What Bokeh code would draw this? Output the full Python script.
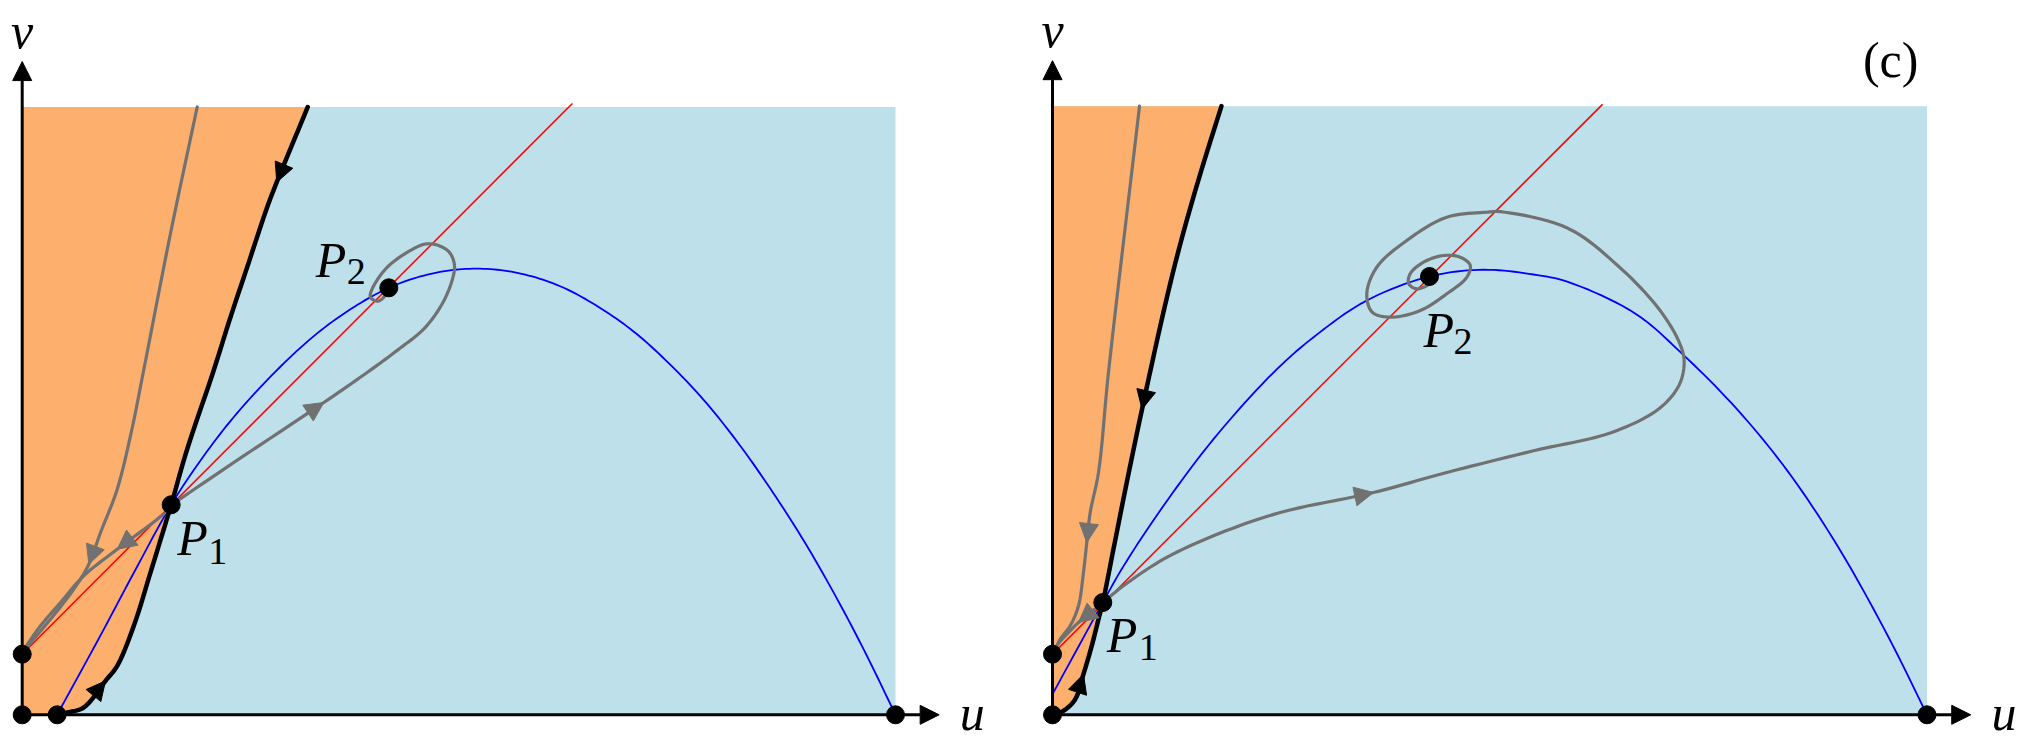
from bokeh.plotting import figure
from bokeh.layouts import row
from bokeh.models import Range1d, Arrow, NormalHead
from bokeh.core.properties import value
from bokeh.embed import file_html
from bokeh.resources import INLINE

# ---------------- data (u, v phase-plane coordinates, K = 1) ----------------
v_top = 0.696          # upper edge of the shaded domain
axis_u_end = 1.05
axis_v_end = 0.748

# ----- left panel -----
left_eq_u = [0.0, 0.040, 0.0, 0.1706, 0.4198, 1.0]
left_eq_v = [0.0, 0.0, 0.0694, 0.2405, 0.4889, 0.0]
left_p1 = (0.1706, 0.2405)
left_p2 = (0.4198, 0.4889)

left_red_u = [0.0, 0.630]
left_red_v = [0.0694, 0.700]

left_blue_u = [0.040, 0.090, 0.128, 0.1706, 0.204, 0.2423, 0.290, 0.338, 0.380, 0.4198,
               0.460, 0.500, 0.540, 0.580, 0.620, 0.660, 0.700, 0.740, 0.780, 0.820,
               0.860, 0.900, 0.940, 0.970, 1.000]
left_blue_v = [0.0, 0.0915, 0.163, 0.2405, 0.291, 0.341, 0.393, 0.437, 0.467, 0.4889,
               0.503, 0.510, 0.510, 0.503, 0.489, 0.467, 0.439, 0.403, 0.361, 0.311,
               0.254, 0.191, 0.120, 0.062, 0.0]

left_sep_u = [0.0401, 0.0515, 0.0705, 0.0954, 0.1088, 0.1278, 0.1469, 0.1621, 0.1706,
              0.1889, 0.2185, 0.2385, 0.2576, 0.2805, 0.2915, 0.3270]
left_sep_v = [0.0, 0.0026, 0.0084, 0.0389, 0.0561, 0.1019, 0.1629, 0.2125, 0.2405,
              0.3041, 0.3920, 0.4553, 0.5125, 0.5812, 0.6099, 0.6960]

left_gtop_u = [0.2004, 0.1698, 0.1386, 0.1252, 0.1088, 0.0897, 0.0763, 0.0591, 0.0324, 0.0038, 0.0]
left_gtop_v = [0.6960, 0.5511, 0.3920, 0.3250, 0.2583, 0.2087, 0.1724, 0.1438, 0.1095, 0.0751, 0.0694]

left_gp1_u = [0.1706, 0.1660, 0.1088, 0.0705, 0.0439, 0.0210, 0.0038, 0.0]
left_gp1_v = [0.2405, 0.2336, 0.1896, 0.1592, 0.1286, 0.1019, 0.0771, 0.0694]

left_gsp_u = [0.1706, 0.1775, 0.2423, 0.3454, 0.3950, 0.4294, 0.4600, 0.4800, 0.4915, 0.4950,
              0.4893, 0.4767, 0.4618, 0.4446, 0.4180, 0.4008, 0.3988, 0.4065, 0.4141, 0.4198]
left_gsp_v = [0.2405, 0.2450, 0.2889, 0.3576, 0.3920, 0.4173, 0.4420, 0.4690, 0.4950, 0.5145,
              0.5294, 0.5374, 0.5391, 0.5317, 0.5125, 0.4878, 0.4782, 0.4736, 0.4782, 0.4889]

# ----- right panel (c) -----
right_eq_u = [0.0, 0.0, 0.0575, 0.4311, 1.0]
right_eq_v = [0.0, 0.0693, 0.1284, 0.5012, 0.0]
right_p1 = (0.0575, 0.1284)
right_p2 = (0.4311, 0.5012)

right_red_u = [0.0, 0.629]
right_red_v = [0.0693, 0.698]

right_blue_u = [0.0, 0.0575, 0.0812, 0.1269, 0.1841, 0.2527, 0.2985, 0.3594, 0.4311, 0.4929,
                0.5500, 0.5894, 0.6666, 0.7204, 0.7822, 0.8400, 0.8979, 0.9556, 1.0]
right_blue_v = [0.0236, 0.1284, 0.1700, 0.2390, 0.3152, 0.3914, 0.4318, 0.4738, 0.5012, 0.5089,
                0.5035, 0.4950, 0.4587, 0.4125, 0.3500, 0.2795, 0.1927, 0.0895, 0.0]

right_sep_u = [0.0, 0.0126, 0.0260, 0.0354, 0.0449, 0.0526, 0.0575, 0.0697, 0.0849, 0.1024,
               0.1300, 0.1472, 0.1690, 0.1932]
right_sep_v = [0.0, 0.0046, 0.0178, 0.0464, 0.0789, 0.1093, 0.1284, 0.1894, 0.2656, 0.3495,
               0.4738, 0.5424, 0.6186, 0.6960]

right_gtop_u = [0.0995, 0.0640, 0.0526, 0.0431, 0.0392, 0.0354, 0.0297, 0.0202, 0.0088, 0.0031, 0.0]
right_gtop_v = [0.6960, 0.3914, 0.2771, 0.2313, 0.1970, 0.1627, 0.1246, 0.1018, 0.0864, 0.0750, 0.0693]

right_gp1_u = [0.0575, 0.0297, 0.0183, 0.0069, 0.0]
right_gp1_v = [0.1284, 0.1055, 0.0941, 0.0815, 0.0693]

right_gsp_u = [0.0575, 0.0812, 0.1269, 0.1841, 0.2604, 0.3671, 0.4509, 0.5500, 0.6395,
               0.6935, 0.7166, 0.7223, 0.7166, 0.6935, 0.6472, 0.5894, 0.5123, 0.4966, 0.4509,
               0.4051, 0.3708, 0.3594, 0.3656, 0.3862, 0.4205, 0.4509, 0.4738, 0.4777, 0.4663,
               0.4472, 0.4243, 0.4090, 0.4074, 0.4166, 0.4319, 0.4395, 0.4311]
right_gsp_v = [0.1284, 0.1475, 0.1779, 0.2047, 0.2313, 0.2542, 0.2771, 0.3019, 0.3229,
               0.3500, 0.3772, 0.4043, 0.4261, 0.4640, 0.5129, 0.5563, 0.5753, 0.5747, 0.5690,
               0.5424, 0.5118, 0.4814, 0.4604, 0.4547, 0.4623, 0.4814, 0.5004, 0.5138, 0.5233,
               0.5252, 0.5176, 0.5043, 0.4929, 0.4871, 0.4929, 0.5000, 0.5012]

# ---------------- styling ----------------
ORANGE = "#FDAF6E"
LIGHTBLUE = "#BDE0EB"
GRAY = "#717171"
FONT = value("Liberation Serif")
H = 744
BIG = 50      # main text size (px)
SMALL = 38    # subscript size (px)
LIFT_BIG = -16
LIFT_SMALL = -12


def smooth(us, vs, n=10):
    """Centripetal Catmull-Rom curve drawn through the read points (rendering only)."""
    pts = list(zip(us, vs))
    if len(pts) < 3:
        return list(us), list(vs)
    ext = [(2 * pts[0][0] - pts[1][0], 2 * pts[0][1] - pts[1][1])] + pts + \
          [(2 * pts[-1][0] - pts[-2][0], 2 * pts[-1][1] - pts[-2][1])]
    ou, ov = [], []

    def tj(ti, a, b):
        d = ((b[0] - a[0]) ** 2 + (b[1] - a[1]) ** 2) ** 0.5
        return ti + max(d, 1e-9) ** 0.5

    for i in range(1, len(ext) - 2):
        P0, P1, P2, P3 = ext[i - 1], ext[i], ext[i + 1], ext[i + 2]
        t0 = 0.0
        t1 = tj(t0, P0, P1)
        t2 = tj(t1, P1, P2)
        t3 = tj(t2, P2, P3)
        for k in range(n):
            t = t1 + (t2 - t1) * k / n

            def lerp(a, b, ta, tb):
                return ((tb - t) / (tb - ta) * a[0] + (t - ta) / (tb - ta) * b[0],
                        (tb - t) / (tb - ta) * a[1] + (t - ta) / (tb - ta) * b[1])
            A1 = lerp(P0, P1, t0, t1)
            A2 = lerp(P1, P2, t1, t2)
            A3 = lerp(P2, P3, t2, t3)
            B1 = lerp(A1, A2, t0, t2)
            B2 = lerp(A2, A3, t1, t3)
            C = lerp(B1, B2, t1, t2)
            ou.append(C[0])
            ov.append(C[1])
    ou.append(pts[-1][0])
    ov.append(pts[-1][1])
    return ou, ov


def make_panel(width, xr, yr, d):
    p = figure(width=width, height=H, x_range=Range1d(*xr), y_range=Range1d(*yr),
               output_backend="svg", toolbar_location=None,
               x_axis_location=None, y_axis_location=None, min_border=0,
               outline_line_color=None, background_fill_color="white",
               border_fill_color="white")
    p.grid.visible = False

    # domains
    su, sv = smooth(d["sep_u"], d["sep_v"])
    p.quad(left=0, right=d["eq_u"][-1], bottom=0, top=v_top,
           fill_color=LIGHTBLUE, line_color=None)
    p.patch([0.0] + su + [0.0], [0.0] + sv + [sv[-1]],
            fill_color=ORANGE, line_color=None)

    # nullclines
    bu, bv = smooth(d["blue_u"], d["blue_v"])
    p.line(bu, bv, line_color="#0000FF", line_width=1.8, line_join="round")
    p.line(d["red_u"], d["red_v"], line_color="#FF0000", line_width=1.5)

    # trajectories
    for key in ("gtop", "gp1", "gsp"):
        gu, gv = smooth(d[key + "_u"], d[key + "_v"])
        p.line(gu, gv, line_color=GRAY, line_width=3.2,
               line_join="round", line_cap="round")
    p.line(su, sv, line_color="black", line_width=4.5,
           line_join="round", line_cap="round")

    # arrow heads on curves: (curve, index, backwards, color)
    for key, idx, back, col in d["heads"]:
        us, vs = d[key + "_u"], d[key + "_v"]
        j = idx + 1 if back else idx - 1
        p.add_layout(Arrow(end=NormalHead(size=19, fill_color=col, line_color=col, line_width=1),
                           x_start=us[j], y_start=vs[j], x_end=us[idx], y_end=vs[idx],
                           line_alpha=0))

    # axes with arrows
    for xe, ye in ((axis_u_end, 0.0), (0.0, axis_v_end)):
        p.add_layout(Arrow(end=NormalHead(size=19, fill_color="black", line_color="black"),
                           x_start=0.0, y_start=0.0, x_end=xe, y_end=ye,
                           line_width=3, line_color="black"))

    # equilibria
    p.scatter(d["eq_u"], d["eq_v"], size=18, color="black")

    # axis labels
    p.text(x=[0.0], y=[0.770], text=["v"], text_font=FONT, text_font_style="italic",
           text_font_size=f"{BIG}px", text_align="center", text_baseline="alphabetic",
           y_offset=LIFT_BIG + 5)
    p.text(x=[1.088], y=[-0.016], text=["u"], text_font=FONT, text_font_style="italic",
           text_font_size=f"{BIG}px", text_align="center", text_baseline="alphabetic",
           y_offset=LIFT_BIG)

    # point labels
    for (pu, pv), sub, off_p, off_s in d["labels"]:
        p.text(x=[pu], y=[pv], text=["P"], text_font=FONT, text_font_style="italic",
               text_font_size=f"{BIG}px", text_align="left", text_baseline="alphabetic",
               x_offset=off_p[0], y_offset=off_p[1] + LIFT_BIG)
        p.text(x=[pu], y=[pv], text=[sub], text_font=FONT,
               text_font_size=f"{SMALL}px", text_align="left", text_baseline="alphabetic",
               x_offset=off_s[0], y_offset=off_s[1] + LIFT_SMALL)
    return p


left = dict(eq_u=left_eq_u, eq_v=left_eq_v, red_u=left_red_u, red_v=left_red_v,
            blue_u=left_blue_u, blue_v=left_blue_v, sep_u=left_sep_u, sep_v=left_sep_v,
            gtop_u=left_gtop_u, gtop_v=left_gtop_v, gp1_u=left_gp1_u, gp1_v=left_gp1_v,
            gsp_u=left_gsp_u, gsp_v=left_gsp_v,
            heads=[("sep", 3, False, "black"), ("sep", 14, True, "black"),
                   ("gtop", 6, False, GRAY), ("gp1", 2, False, GRAY), ("gsp", 3, False, GRAY)],
            labels=[(left_p1, "1", (6, 49), (37, 59)),
                    (left_p2, "2", (-73, -12), (-42, -4))])

right = dict(eq_u=right_eq_u, eq_v=right_eq_v, red_u=right_red_u, red_v=right_red_v,
             blue_u=right_blue_u, blue_v=right_blue_v, sep_u=right_sep_u, sep_v=right_sep_v,
             gtop_u=right_gtop_u, gtop_v=right_gtop_v, gp1_u=right_gp1_u, gp1_v=right_gp1_v,
             gsp_u=right_gsp_u, gsp_v=right_gsp_v,
             heads=[("sep", 3, False, "black"), ("sep", 9, True, "black"),
                    ("gtop", 4, False, GRAY), ("gp1", 1, False, GRAY), ("gsp", 5, False, GRAY)],
             labels=[(right_p1, "1", (4, 48), (36, 57)),
                     (right_p2, "2", (-6, 69), (24, 77))])

p1 = make_panel(1013, (-0.02485, 1.13512), (-0.03401, 0.81793), left)
p2 = make_panel(1013, (-0.0446, 1.11378), (-0.03396, 0.81681), right)
p2.text(x=[0.9585], y=[0.730], text=["(c)"], text_font=FONT, text_font_size=f"{BIG}px",
        text_align="center", text_baseline="alphabetic", y_offset=LIFT_BIG)

layout = row(p1, p2)
open("out.html", "w").write(file_html(layout, INLINE))
